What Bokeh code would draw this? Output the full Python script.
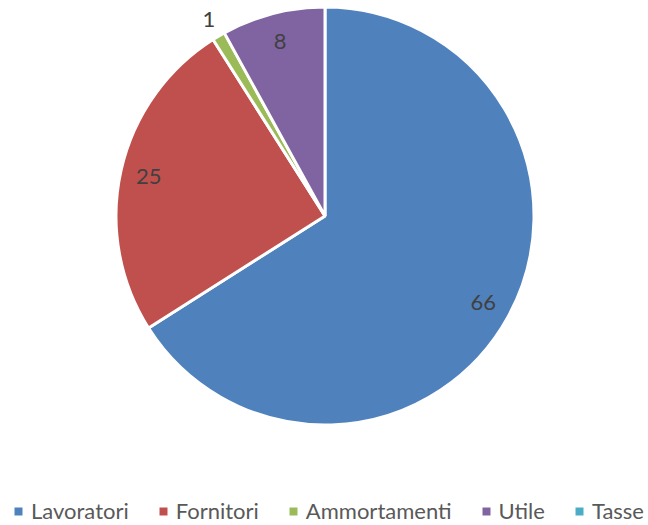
import math
from bokeh.plotting import figure
from bokeh.models import ColumnDataSource, Range1d, Legend, LegendItem, CDSView, BooleanFilter
from bokeh.core.properties import value
from bokeh.embed import file_html
from bokeh.resources import INLINE

categories = ["Lavoratori", "Fornitori", "Ammortamenti", "Utile", "Tasse"]
values = [66, 25, 1, 8, 0]
colors = ["#4F81BD", "#C0504D", "#9BBB59", "#8064A2", "#4BACC6"]

W, H = 648, 525
cx, cy = 324.5, 215.5      # pie centre in pixels from top-left
R = 209                    # wedge radius (outer white stroke trims ~1.5px)
R_vis = 207.5

total = float(sum(values))
starts, ends, lx, ly, labels = [], [], [], [], []
cum = 0.0
for v in values:
    a0 = math.pi / 2 - 2 * math.pi * cum / total
    cum += v
    a1 = math.pi / 2 - 2 * math.pi * cum / total
    starts.append(a0)
    ends.append(a1)
    mid = (a0 + a1) / 2
    frac = v / total
    rr = R_vis * (0.87 if frac >= 0.02 else 1.1)
    lx.append(rr * math.cos(mid))
    ly.append(rr * math.sin(mid))
    labels.append(str(v) if v > 0 else "")

src = ColumnDataSource(dict(cat=categories, val=values, color=colors,
                            start=starts, end=ends, lx=lx, ly=ly, lab=labels,
                            zx=[0] * len(values), zy=[0] * len(values)))
view = CDSView(filter=BooleanFilter([v > 0 for v in values]))

p = figure(width=W, height=H, output_backend="svg", toolbar_location=None,
           x_range=Range1d(-cx, W - cx), y_range=Range1d(-(H - cy), cy),
           min_border=0, outline_line_color=None)
p.axis.visible = False
p.grid.visible = False
p.background_fill_color = "white"
p.border_fill_color = "white"

p.wedge(x=0, y=0, radius=R, start_angle="start", end_angle="end",
        direction="clock", fill_color="color", line_color="white",
        line_width=3, source=src, view=view)

# legend-only markers (zero size in the plot; the legend sizes them itself)
lg = p.scatter(x="zx", y="zy", size=0, marker="square", fill_color="color",
               line_color=None, source=src)

p.text(x="lx", y="ly", text="lab", source=src, text_align="center",
       text_baseline="middle", text_font=value("Lato"),
       text_font_size="22px", text_color="#404040")

items = [LegendItem(label=c, renderers=[lg], index=i) for i, c in enumerate(categories)]
legend = Legend(items=items, orientation="horizontal", location=(8, 1),
                glyph_width=20, glyph_height=20, label_standoff=3, spacing=24,
                padding=0, margin=0, border_line_alpha=0, background_fill_alpha=0,
                label_text_font="Lato", label_text_font_size="22px",
                label_text_color="#595959", label_text_baseline="middle")
p.add_layout(legend)

open("out.html", "w").write(file_html(p, INLINE))
